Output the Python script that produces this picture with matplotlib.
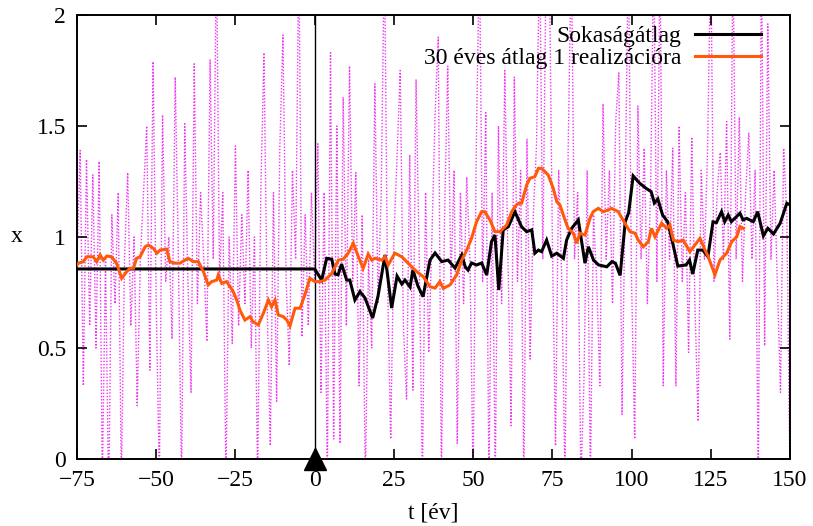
import numpy as np
import matplotlib.pyplot as plt

SERIF = 'Liberation Serif'
plt.rcParams['font.family'] = 'serif'
plt.rcParams['font.serif'] = [SERIF, 'DejaVu Serif']

# Egy realizáció évenkénti értékei, t = -75 ... 150
realizacio = [
    0.90, 1.39, 0.33, 1.35, 0.60, 1.28, 0.50, 1.34, -0.10, 0.90,    # -75 .. -66
    -0.20, 1.10, 0.70, 1.20, -0.10, 0.90, 1.29, 0.60, 1.00, 0.24,   # -65 .. -56
    0.90, 1.20, 1.50, 0.40, 1.79, 0.70, -0.10, 1.55, 0.80, 1.00,    # -55 .. -46
    0.54, 1.72, 0.90, -0.10, 1.51, 0.80, 0.30, 1.78, 0.70, 1.20,    # -45 .. -36
    0.90, 0.53, 1.80, 0.90, 2.30, 0.80, 1.20, -0.10, 1.00, 0.52,    # -35 .. -26
    1.41, 0.60, 1.10, 0.70, 1.30, 0.50, 1.00, -0.10, 1.20, 1.83,    # -25 .. -16
    0.70, 0.06, 1.20, 0.26, 1.40, 1.91, 0.80, 0.42, 1.30, 0.90,     # -15 .. -6
    2.30, 0.55, 1.10, 0.60, 1.20, 0.80, 1.42, 0.30, 1.20, -0.10,    # -5 .. 4
    1.83, 0.09, 1.50, 0.07, 1.63, 0.60, 1.77, 0.80, 1.29, 0.33,     # 5 .. 14
    1.10, -0.10, 0.90, 0.50, 1.69, 0.70, 1.20, 2.30, 0.80, 0.09,    # 15 .. 24
    1.00, 1.36, 1.75, 0.60, 0.27, 1.37, 0.31, 1.71, 0.90, -0.10,    # 25 .. 34
    1.20, 0.48, 1.00, 1.55, 1.90, -0.10, 1.10, 1.77, 0.80, 1.30,    # 35 .. 44
    0.07, 1.20, 0.70, 1.27, 0.90, -0.10, 1.40, 2.30, 0.80, 1.56,    # 45 .. 54
    -0.10, 1.20, -0.10, 1.50, 0.70, 1.75, 0.90, 0.15, 1.72, 0.80,   # 55 .. 64
    1.30, -0.10, 1.44, 0.45, 1.10, 1.41, 2.30, 0.90, 2.20, 2.30,    # 65 .. 74
    1.00, 0.06, 1.30, 0.80, -0.10, 1.40, 2.30, 0.90, 1.20, -0.10,   # 75 .. 84
    0.36, 1.30, -0.10, 1.10, 0.80, 0.33, 1.60, 0.90, 1.30, 0.70,    # 85 .. 94
    1.52, 1.74, 0.20, 1.20, 2.30, 0.80, 0.09, 1.59, 0.90, 1.40,     # 95 .. 104
    0.70, 1.20, 2.30, 0.80, 2.30, 0.33, 1.30, 0.90, 1.40, 0.33,     # 105 .. 114
    1.50, 0.80, 1.20, 0.48, 1.45, 0.70, 0.17, 1.30, 0.90, 1.40,     # 115 .. 124
    2.30, 0.80, 1.20, 1.38, 0.90, 1.52, 0.54, 2.30, 0.90, 1.54,     # 125 .. 134
    0.80, 1.20, 1.47, 0.90, 1.30, -0.10, 2.30, 0.51, 1.96, 0.90,    # 135 .. 144
    1.30, 0.80, 0.30, 1.40, 1.10, -0.10,                            # 145 .. 150
]
ev = np.arange(-75, -75 + len(realizacio))

# Sokaságátlag: t < 0 állandó, utána változik
atlag_t = [-75, 0, 2.2, 3.8, 5.4, 6.4, 7.4, 8.5, 10.1, 11.1, 12.7, 14.3, 15.9,
           18.3, 20.0, 22.2, 24.3, 26.0, 27.5, 28.5, 30.1, 31.0, 32.6, 34.2,
           36.4, 38.0, 40.1, 42.1, 44.3, 46.4, 47.5, 48.4, 49.5, 51.1, 52.7,
           54.3, 55.8, 56.9, 58.1, 59.5, 61.1, 63.2, 65.3, 66.9, 68.5, 69.5,
           70.6, 71.6, 73.2, 74.8, 76.4, 78.5, 79.5, 81.1, 83.2, 85.3, 86.4,
           88.0, 89.6, 92.2, 93.8, 94.9, 96.4, 98.0, 99.1, 100.5, 102.5,
           104.6, 106.2, 107.2, 108.3, 109.8, 111.4, 113.0, 114.6, 117.2,
           118.3, 119.3, 120.9, 122.5, 124.1, 125.7, 126.8, 128.4, 129.4,
           130.5, 131.5, 134.2, 135.2, 136.3, 138.4, 139.8, 141.6, 143.0,
           144.8, 146.9, 149.0, 150.1, 151.0]
atlag_x = [0.856, 0.856, 0.806, 0.904, 0.900, 0.833, 0.830, 0.878, 0.806, 0.806,
           0.716, 0.754, 0.725, 0.635, 0.734, 0.919, 0.680, 0.824, 0.788, 0.806,
           0.775, 0.851, 0.779, 0.731, 0.896, 0.928, 0.889, 0.896, 0.860, 0.919,
           0.866, 0.851, 0.883, 0.874, 0.883, 0.829, 0.979, 1.009, 0.761, 1.032,
           1.046, 1.114, 1.046, 1.024, 1.032, 0.927, 0.941, 0.934, 0.986, 0.914,
           0.927, 0.904, 0.986, 1.039, 1.077, 0.882, 0.956, 0.896, 0.874, 0.866,
           0.889, 0.882, 0.827, 1.068, 1.110, 1.275, 1.243, 1.219, 1.204, 1.153,
           1.171, 1.099, 1.068, 0.972, 0.869, 0.874, 0.896, 0.833, 0.941, 0.941,
           0.911, 1.068, 1.065, 1.114, 1.069, 1.099, 1.069, 1.107, 1.077, 1.084,
           1.069, 1.114, 1.005, 1.039, 1.014, 1.062, 1.152, 1.144, 1.110]

# 30 éves mozgóátlag egy realizációra
mozgo_t = [-75, -74.6, -73.0, -71.9, -69.9, -68.8, -67.7, -66.7, -65.6, -64.1,
           -62.5, -60.9, -59.3, -58.3, -57.2, -56.2, -55.1, -53.5, -52.5, -50.9,
           -49.8, -48.8, -46.7, -45.7, -44.1, -42.5, -40.9, -39.9, -38.3, -36.7,
           -35.1, -33.6, -32.5, -30.9, -30.4, -29.3, -27.8, -26.7, -25.7, -24.6,
           -23.6, -22.0, -20.4, -19.4, -17.8, -16.2, -14.6, -13.6, -12.5, -11.5,
           -9.9, -8.8, -7.8, -6.2, -4.6, -3.1, -1.5, 0.1, 1.7, 3.3, 5.4, 7.5, 9.0,
           10.6, 12.2, 13.8, 15.3, 16.9, 18.0, 19.0, 21.2, 22.2, 23.2, 25.3, 27.5,
           29.0, 30.6, 32.2, 34.3, 36.4, 38.0, 39.5, 40.6, 42.7, 44.8, 46.4, 48.0,
           49.5, 51.1, 52.7, 53.7, 55.3, 56.9, 58.5, 60.6, 62.2, 63.2, 64.3, 65.3,
           66.9, 67.9, 69.5, 70.6, 71.6, 72.7, 73.7, 75.3, 76.4, 77.4, 79.0, 80.0,
           81.6, 82.7, 83.7, 85.3, 86.9, 87.9, 89.5, 91.1, 92.7, 93.7, 95.8, 97.9,
           99.5, 101.1, 102.1, 103.7, 105.3, 106.3, 107.4, 109.5, 111.1, 112.1,
           113.2, 114.7, 116.3, 118.4, 120.0, 121.6, 123.2, 124.2, 126.3, 127.9,
           130.0, 131.6, 133.2, 134.2, 135.3]
mozgo_x = [0.874, 0.882, 0.889, 0.911, 0.911, 0.889, 0.919, 0.896, 0.914, 0.911,
           0.882, 0.814, 0.844, 0.859, 0.859, 0.904, 0.911, 0.956, 0.964, 0.949,
           0.927, 0.941, 0.945, 0.889, 0.882, 0.882, 0.896, 0.904, 0.889, 0.889,
           0.844, 0.784, 0.799, 0.806, 0.829, 0.791, 0.799, 0.776, 0.754, 0.716,
           0.671, 0.626, 0.641, 0.618, 0.604, 0.656, 0.716, 0.686, 0.716, 0.649,
           0.641, 0.626, 0.599, 0.679, 0.679, 0.739, 0.814, 0.799, 0.799, 0.806,
           0.836, 0.896, 0.900, 0.927, 0.972, 0.911, 0.859, 0.923, 0.896, 0.904,
           0.896, 0.911, 0.874, 0.927, 0.911, 0.889, 0.866, 0.844, 0.821, 0.776,
           0.770, 0.799, 0.769, 0.784, 0.829, 0.896, 0.941, 0.994, 1.069, 1.114,
           1.114, 1.077, 1.024, 1.024, 1.054, 1.114, 1.137, 1.152, 1.152, 1.234,
           1.264, 1.272, 1.309, 1.309, 1.294, 1.279, 1.219, 1.159, 1.144, 1.077,
           1.039, 1.017, 0.972, 1.017, 1.009, 1.084, 1.114, 1.129, 1.114, 1.122,
           1.129, 1.114, 1.062, 1.024, 1.017, 0.986, 0.956, 0.979, 1.039, 1.001,
           1.062, 1.039, 1.054, 0.986, 0.979, 0.986, 0.934, 0.964, 0.994, 0.941,
           0.911, 0.829, 0.896, 0.927, 0.979, 1.001, 1.047, 1.039]

fig = plt.figure(figsize=(8.13, 5.26), dpi=100)
ax = fig.add_axes([0.0947, 0.1274, 0.8770, 0.8441])

ax.plot(ev, realizacio, color='#ee00ee', lw=1.0, linestyle=(0, (1, 1.3)),
        alpha=0.8, zorder=1)
ax.axvline(0, color='black', lw=1.0, zorder=2)
l1, = ax.plot(atlag_t, atlag_x, color='black', lw=2.2, zorder=3,
              solid_joinstyle='miter', label='Sokaságátlag')
l2, = ax.plot(mozgo_t, mozgo_x, color='#ff5a0a', lw=2.2, zorder=4,
              solid_joinstyle='miter', label='30 éves átlag 1 realizációra')
ax.plot([0], [0], marker='^', color='black', markersize=16, clip_on=False,
        zorder=5)

ax.set_xlim(-75, 150)
ax.set_ylim(0, 2)
ax.set_xticks(np.arange(-75, 151, 25))
ax.set_yticks([0, 0.5, 1, 1.5, 2])
ax.set_yticklabels(['0', '0.5', '1', '1.5', '2'])
ax.tick_params(direction='in', length=7, width=1.2, top=True, right=True,
               labelsize=17, pad=8, colors='black')
for lbl in ax.get_xticklabels() + ax.get_yticklabels():
    lbl.set_fontfamily(SERIF)
for s in ax.spines.values():
    s.set_linewidth(1.4)

ax.set_xlabel('t [év]', fontsize=17, labelpad=8, fontfamily=SERIF)
ax.set_ylabel('x', fontsize=17, rotation=0, labelpad=14, va='center',
              fontfamily=SERIF)

ax.legend(handles=[l1, l2], loc='upper right', bbox_to_anchor=(0.983, 1.013),
          frameon=False, markerfirst=False, handlelength=2.8,
          prop={'family': SERIF, 'size': 17},
          handletextpad=0.6, labelspacing=0.0, borderpad=0.2)

fig.savefig('out.png', dpi=100)
